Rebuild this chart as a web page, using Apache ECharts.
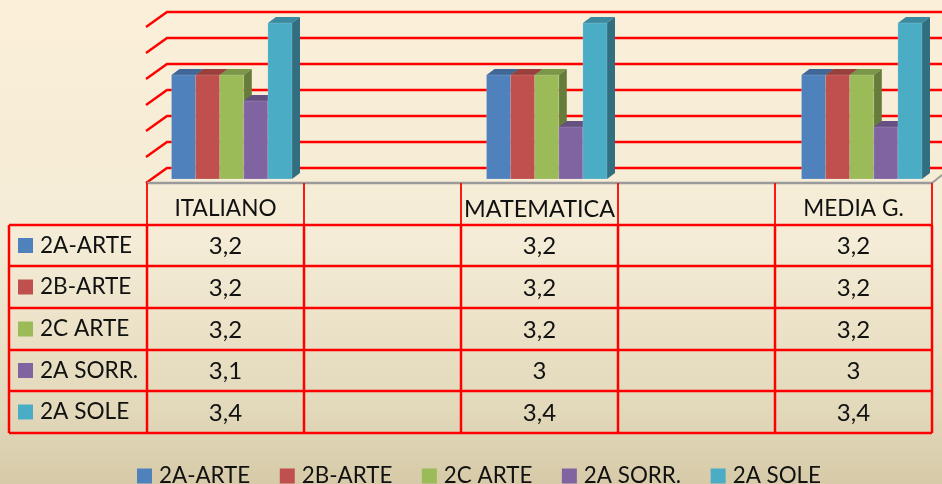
<!DOCTYPE html>
<html><head><meta charset="utf-8">
<style>html,body{margin:0;padding:0;background:#f5ecd6}#c{width:942px;height:484px}</style>
<script src="https://cdn.jsdelivr.net/npm/echarts@6/dist/echarts.min.js"></script></head>
<body><div id="c"></div>
<script>
const categories = ['ITALIANO', '', 'MATEMATICA', '', 'MEDIA G.'];
const seriesNames = ['2A-ARTE', '2B-ARTE', '2C ARTE', '2A SORR.', '2A SOLE'];
const arte2a = [3.2, null, 3.2, null, 3.2];
const arte2b = [3.2, null, 3.2, null, 3.2];
const arte2c = [3.2, null, 3.2, null, 3.2];
const sorr2a = [3.1, null, 3.0, null, 3.0];
const sole2a = [3.4, null, 3.4, null, 3.4];
const yTicks = [2.8, 2.9, 3.0, 3.1, 3.2, 3.3, 3.4];
const seriesValues = [arte2a, arte2b, arte2c, sorr2a, sole2a];

const front = ['#4f81bd', '#c0504d', '#9bbb59', '#8064a2', '#4bacc6'];
const topC = ['#3f6797', '#99403d', '#7c9647', '#665082', '#3c8aa0'];
const sideC = ['#365a84', '#863835', '#667c3b', '#594671', '#306e80'];
const FONT = 'Lato';
const RED = '#ff0000';
const G = {left: 147, right: 934.5, top: 23, bottom: 179};
const tableRows = [183, 225, 266, 308, 350, 391, 433];
const tableX0 = 9;
const tableBand = 157;
const tableRight = G.left + tableBand * categories.length;

function barSeries(idx) {
  return {
    type: 'custom', name: seriesNames[idx], coordinateSystem: 'cartesian2d', clip: false, z: 5,
    itemStyle: {color: front[idx]},
    data: seriesValues[idx].map((v, i) => [i, v]),
    encode: {x: 0, y: 1},
    renderItem(params, api) {
      const v = api.value(1);
      if (v == null || isNaN(v)) return;
      const b = api.size([1, 0])[0];
      const w = b * 0.153;
      const base = api.coord([api.value(0), yTicks[0]]);
      const top = api.coord([api.value(0), v]);
      const x = base[0] - 2.5 * w + 6 + idx * w;
      const dx = 8, dy = 6;
      const edge = {stroke: 'rgba(255,255,255,0.25)', lineWidth: 0.6};
      return {type: 'group', children: [
        {type: 'polygon', shape: {points: [[x, top[1]], [x + dx, top[1] - dy], [x + w + dx, top[1] - dy], [x + w, top[1]]]}, style: {fill: topC[idx]}},
        {type: 'polygon', shape: {points: [[x + w, top[1]], [x + w + dx, top[1] - dy], [x + w + dx, base[1] - dy], [x + w, base[1]]]}, style: {fill: sideC[idx]}},
        {type: 'rect', shape: {x, y: top[1], width: w, height: base[1] - top[1]}, style: Object.assign({fill: front[idx]}, edge)}
      ]};
    }
  };
}

const wallSeries = {
  type: 'custom', name: 'wall', silent: true, z: 1, clip: false,
  coordinateSystem: 'cartesian2d',
  data: yTicks.map(t => [0, t]),
  encode: {x: 0, y: 1},
  renderItem(params, api) {
    const p = api.coord([0, api.value(1)]);
    const cs = params.coordSys;
    const l = cs.x, by = p[1] - 11, fy = p[1] + 4;
    return {type: 'group', children: [
      {type: 'polyline', shape: {points: [[l - 1, fy], [l + 20, by], [942, by]]}, style: {stroke: RED, lineWidth: 2.4, fill: null}}
    ]};
  }
};

const g = [];
g.push({type: 'line', shape: {x1: G.left, y1: G.bottom + 4, x2: tableRight, y2: G.bottom + 4}, style: {stroke: '#9a9a9a', lineWidth: 2.5}, z: 6});
g.push({type: 'line', shape: {x1: tableRight, y1: G.bottom + 4, x2: 942, y2: G.bottom - 4}, style: {stroke: '#9a9a9a', lineWidth: 2}, z: 6});
for (let r = 1; r < tableRows.length; r++)
  g.push({type: 'line', shape: {x1: tableX0, y1: tableRows[r], x2: tableRight, y2: tableRows[r]}, style: {stroke: RED, lineWidth: 2.5}, z: 7});
g.push({type: 'line', shape: {x1: tableX0, y1: tableRows[1], x2: tableX0, y2: tableRows[6]}, style: {stroke: RED, lineWidth: 2.5}, z: 7});
for (let c = 0; c <= categories.length; c++) {
  const x = G.left + c * tableBand;
  g.push({type: 'line', shape: {x1: x, y1: tableRows[0], x2: x, y2: tableRows[1]}, style: {stroke: RED, lineWidth: 1.8}, z: 7});
  g.push({type: 'line', shape: {x1: x, y1: tableRows[1], x2: x, y2: tableRows[6]}, style: {stroke: RED, lineWidth: 2.5}, z: 7});
}
function txt(s, x, y, align, size) {
  return {type: 'text', x, y, z: 8, style: {text: s, fill: '#111', font: size + 'px ' + FONT, align, verticalAlign: 'middle'}};
}
categories.forEach((c, i) => { if (c) g.push(txt(c, G.left + (i + 0.5) * tableBand, 209, 'center', c === 'MATEMATICA' ? 23.4 : 22.6)); });
seriesNames.forEach((n, r) => {
  const cy = (tableRows[r + 1] + tableRows[r + 2]) / 2;
  g.push({type: 'rect', shape: {x: 18, y: cy - 7.5, width: 15, height: 15}, style: {fill: front[r]}, z: 8});
  g.push(txt(n, 40, cy, 'left', 22.6));
  seriesValues[r].forEach((v, i) => {
    if (v != null) g.push(txt(String(v).replace('.', ','), G.left + (i + 0.5) * tableBand, cy + 1, 'center', 24));
  });
});

const chart = echarts.init(document.getElementById('c'), null, {renderer: 'canvas'});
chart.setOption({
  animation: false,
  backgroundColor: {type: 'linear', x: 0, y: 0, x2: 0, y2: 1, colorStops: [
    {offset: 0, color: '#fbefd9'}, {offset: 0.5, color: '#f4ecd6'}, {offset: 0.85, color: '#e2d8ba'}, {offset: 1, color: '#d6caa8'}]},
  grid: {left: G.left, top: G.top, width: G.right - G.left, height: G.bottom - G.top},
  xAxis: {type: 'category', data: categories, axisLine: {show: false}, axisTick: {show: false}, axisLabel: {show: false}, splitLine: {show: false}},
  yAxis: {type: 'value', min: 2.8, max: 3.4, interval: 0.1, axisLine: {show: false}, axisTick: {show: false}, axisLabel: {show: false}, splitLine: {show: false}},
  legend: {
    data: seriesNames, top: 465, left: 137, itemWidth: 15, itemHeight: 15, itemGap: 29.5, icon: 'rect',
    textStyle: {fontFamily: FONT, fontSize: 22.4, color: '#111', padding: [0, 0, 0, 2]}, padding: 0
  },
  series: [wallSeries].concat(seriesNames.map((n, i) => barSeries(i))),
  graphic: {elements: g}
});
</script></body></html>
